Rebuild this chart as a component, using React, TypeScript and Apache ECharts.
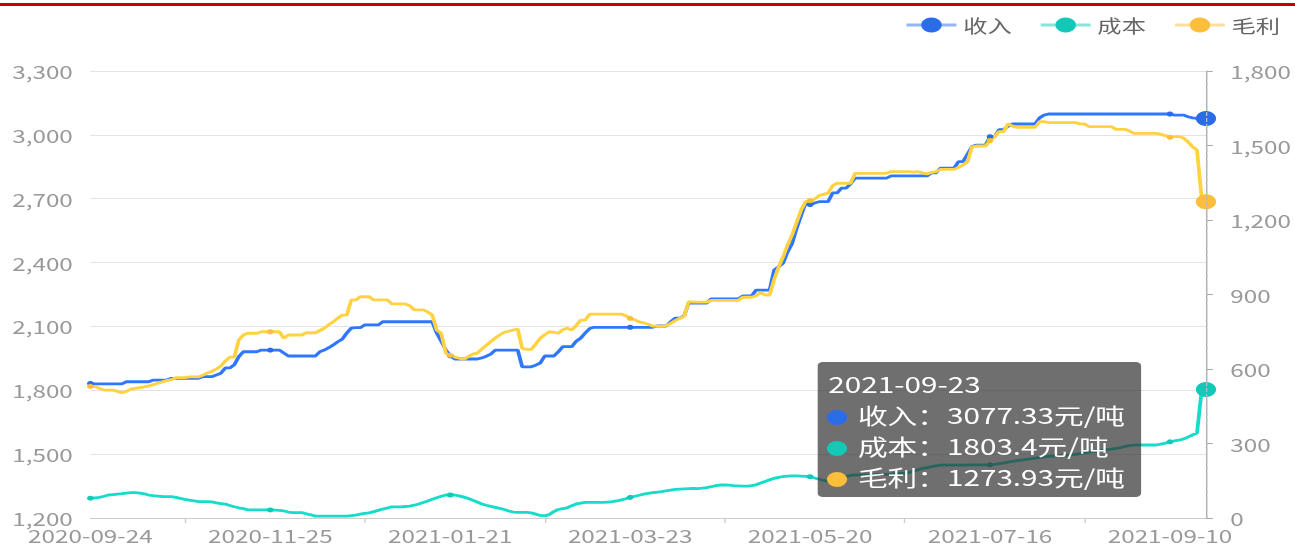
import React, { useEffect, useRef } from "react";
import * as echarts from "echarts";

// ---- categories: Chinese working days between the first and last date ----
const START_DATE = "2020-09-24";
const END_DATE = "2021-09-23";
const HOLIDAYS = [
  "2020-10-01", "2020-10-02", "2020-10-05", "2020-10-06", "2020-10-07", "2020-10-08",
  "2021-01-01",
  "2021-02-11", "2021-02-12", "2021-02-15", "2021-02-16", "2021-02-17",
  "2021-04-05",
  "2021-05-03", "2021-05-04", "2021-05-05",
  "2021-06-14",
  "2021-09-20", "2021-09-21",
];
const MAKEUP_WORKDAYS = [
  "2020-09-27", "2020-10-10", "2021-02-07", "2021-02-20", "2021-04-25", "2021-05-08", "2021-09-18",
];

function buildDates(): string[] {
  const out: string[] = [];
  const d = new Date(START_DATE + "T00:00:00Z");
  const end = new Date(END_DATE + "T00:00:00Z");
  while (d.getTime() <= end.getTime()) {
    const s = d.toISOString().slice(0, 10);
    const wd = d.getUTCDay();
    const work = MAKEUP_WORKDAYS.includes(s) || (wd !== 0 && wd !== 6 && !HOLIDAYS.includes(s));
    if (work) out.push(s);
    d.setUTCDate(d.getUTCDate() + 1);
  }
  return out;
}
const DATES = buildDates();

const SERIES_NAMES = ["收入", "成本", "毛利"];

// 收入 (left axis)
const INCOME = [
  1832, 1830, 1830, 1830, 1830, 1830, 1830, 1830, 1840, 1840,
  1840, 1840, 1840, 1840, 1848, 1848, 1848, 1848, 1856, 1856,
  1856, 1856, 1856, 1856, 1856, 1864, 1864, 1864, 1872, 1880,
  1905, 1905, 1920, 1958, 1981, 1981, 1981, 1981, 1989, 1989,
  1989, 1989, 1989, 1975, 1961, 1961, 1961, 1961, 1961, 1961,
  1961, 1981, 1989, 2000, 2013, 2028, 2040, 2069, 2092, 2094,
  2094, 2107, 2107, 2107, 2107, 2122, 2122, 2122, 2122, 2122,
  2122, 2122, 2122, 2122, 2122, 2122, 2122, 2069, 2030, 1990,
  1962, 1947, 1947, 1947, 1947, 1947, 1947, 1952, 1960, 1970,
  1989, 1989, 1989, 1989, 1989, 1989, 1910, 1910, 1910, 1918,
  1928, 1961, 1961, 1961, 1980, 2005, 2005, 2005, 2030, 2045,
  2069, 2090, 2096, 2096, 2096, 2096, 2096, 2096, 2096, 2096,
  2096, 2096, 2096, 2096, 2096, 2096, 2102, 2102, 2102, 2122,
  2139, 2139, 2150, 2210, 2210, 2210, 2210, 2210, 2229, 2229,
  2229, 2229, 2229, 2229, 2229, 2243, 2243, 2243, 2271, 2271,
  2271, 2271, 2365, 2380, 2398, 2450, 2490, 2560, 2620, 2680,
  2672, 2680, 2686, 2686, 2686, 2727, 2727, 2750, 2750, 2770,
  2797, 2797, 2797, 2797, 2797, 2797, 2797, 2797, 2807, 2807,
  2807, 2807, 2807, 2807, 2807, 2807, 2807, 2822, 2822, 2844,
  2844, 2844, 2844, 2874, 2874, 2910, 2945, 2952, 2952, 2952,
  2991, 2991, 3025, 3025, 3040, 3051, 3051, 3051, 3051, 3051,
  3051, 3080, 3093, 3098, 3098, 3098, 3098, 3098, 3098, 3098,
  3098, 3098, 3098, 3098, 3098, 3098, 3098, 3098, 3098, 3098,
  3098, 3098, 3098, 3098, 3098, 3098, 3098, 3098, 3098, 3098,
  3098, 3093, 3093, 3093, 3085, 3080, 3077.33, 3077.33, 3077.33,
];

// 成本 (left axis)
const COST = [
  1293, 1295, 1297, 1302, 1308, 1310, 1312, 1314, 1317, 1319,
  1319, 1317, 1313, 1308, 1305, 1303, 1301, 1300, 1300, 1297,
  1292, 1288, 1284, 1281, 1277, 1277, 1277, 1276, 1271, 1268,
  1265, 1259, 1253, 1248, 1244, 1238, 1238, 1238, 1238, 1238,
  1238, 1237, 1236, 1233, 1228, 1225, 1225, 1225, 1220, 1215,
  1209, 1209, 1209, 1209, 1209, 1209, 1209, 1209, 1211, 1214,
  1218, 1222, 1224, 1230, 1236, 1242, 1247, 1252, 1252, 1252,
  1254, 1256, 1260, 1266, 1273, 1280, 1288, 1295, 1302, 1308,
  1308, 1308, 1304, 1298, 1292, 1283, 1275, 1266, 1260, 1255,
  1250, 1245, 1240, 1233, 1228, 1226, 1226, 1226, 1224, 1218,
  1212, 1210, 1216, 1230, 1240, 1244, 1248, 1258, 1266, 1270,
  1273, 1273, 1273, 1273, 1273, 1275, 1277, 1280, 1285, 1290,
  1297, 1302, 1307, 1312, 1316, 1319, 1321, 1324, 1328, 1331,
  1334, 1336, 1337, 1338, 1339, 1338, 1340, 1343, 1347, 1352,
  1355, 1356, 1354, 1352, 1351, 1350, 1350, 1352, 1356, 1364,
  1372, 1380, 1386, 1391, 1395, 1397, 1398, 1398, 1397, 1396,
  1394, 1388, 1382, 1377, 1372, 1372, 1378, 1386, 1394, 1400,
  1402, 1403, 1403, 1403, 1403, 1405, 1405, 1405, 1405, 1410,
  1410, 1410, 1414, 1420, 1427, 1433, 1437, 1441, 1445, 1448,
  1448, 1448, 1448, 1448, 1448, 1448, 1450, 1450, 1450, 1450,
  1450, 1452, 1455, 1458, 1462, 1466, 1469, 1472, 1475, 1478,
  1481, 1484, 1487, 1489, 1491, 1493, 1494, 1495, 1497, 1499,
  1502, 1506, 1509, 1512, 1515, 1518, 1521, 1524, 1527, 1531,
  1536, 1540, 1542, 1543, 1543, 1543, 1543, 1543, 1547, 1552,
  1558, 1562, 1566, 1571, 1580, 1590, 1599, 1790, 1803.4,
];

// 毛利 (right axis)
const PROFIT = [
  530, 530, 522, 515, 515, 515, 510, 505, 510, 519,
  522, 525, 528, 532, 537, 543, 548, 553, 557, 565,
  565, 565, 568, 568, 568, 575, 584, 590, 600, 612,
  632, 648, 648, 717, 737, 744, 744, 744, 750, 750,
  750, 750, 750, 724, 737, 737, 737, 737, 746, 746,
  746, 755, 764, 778, 790, 805, 817, 817, 878, 878,
  891, 891, 891, 878, 878, 878, 878, 862, 862, 862,
  862, 855, 838, 838, 838, 830, 817, 757, 744, 664,
  655, 648, 644, 639, 650, 660, 664, 680, 695, 710,
  725, 737, 748, 752, 757, 761, 683, 679, 679, 700,
  724, 738, 750, 748, 744, 758, 764, 757, 775, 797,
  797, 821, 821, 821, 821, 821, 821, 821, 821, 815,
  804, 798, 790, 786, 780, 773, 773, 773, 775, 784,
  795, 804, 811, 871, 869, 869, 869, 869, 876, 876,
  876, 876, 876, 876, 876, 889, 889, 889, 895, 907,
  898, 898, 960, 1010, 1052, 1100, 1140, 1190, 1240, 1274,
  1278, 1285, 1298, 1303, 1308, 1338, 1348, 1348, 1348, 1348,
  1388, 1388, 1388, 1388, 1388, 1388, 1388, 1388, 1395, 1395,
  1395, 1395, 1395, 1393, 1395, 1390, 1385, 1392, 1395, 1404,
  1404, 1404, 1404, 1412, 1422, 1435, 1495, 1498, 1498, 1498,
  1520, 1535, 1556, 1556, 1587, 1578, 1573, 1573, 1573, 1573,
  1573, 1596, 1596, 1592, 1592, 1592, 1592, 1592, 1592, 1592,
  1587, 1587, 1576, 1576, 1576, 1576, 1576, 1576, 1565, 1565,
  1565, 1558, 1549, 1549, 1549, 1549, 1549, 1549, 1545, 1540,
  1533, 1536, 1536, 1530, 1515, 1495, 1482, 1295, 1273.93,
];

const LEFT_TICKS = { min: 1200, max: 3300, interval: 300 };
const RIGHT_TICKS = { min: 0, max: 1800, interval: 300 };
const UNIT = "元/吨";

const COLORS = ["#2B6DE8", "#14C8B8", "#FBBF3C"];
const STRETCH = 1295 / 960;
const FONT = '"Noto Sans CJK SC", "Noto Sans", sans-serif';

export default function App() {
  const ref = useRef<HTMLDivElement>(null);

  useEffect(() => {
    document.body.style.margin = "0";
    document.body.style.overflow = "hidden";
    if (!ref.current) return;
    const chart = echarts.init(ref.current, null, { renderer: "svg" });
    const fmt = (v: number) => v.toLocaleString("en-US");

    const lineSeries = (name: string, data: number[], yAxisIndex: number, color: string) => ({
      name,
      type: "line",
      data,
      yAxisIndex,
      color,
      symbol: "circle",
      symbolSize: 5,
      showSymbol: true,
      lineStyle: { width: 2.8, color },
      itemStyle: { color },
      emphasis: { scale: 3, lineStyle: { width: 2.8 } },
    });

    chart.setOption({
      animation: false,
      textStyle: { fontFamily: FONT },
      graphic: [
        {
          type: "rect",
          silent: true,
          shape: { x: 0, y: 3, width: 960, height: 3 },
          style: { fill: "#C00000" },
        },
      ],
      legend: {
        data: SERIES_NAMES,
        right: 11,
        top: 16,
        padding: 0,
        itemWidth: 37,
        itemHeight: 19,
        itemGap: 20,
        lineStyle: { width: 3, opacity: 0.5 },
        textStyle: { fontSize: 18, color: "#666", fontFamily: FONT },
      },
      grid: {
        left: 67,
        right: 66,
        top: 71,
        bottom: 27,
        containLabel: false,
        outerBoundsMode: "none",
      },
      tooltip: {
        trigger: "axis",
        alwaysShowContent: true,
        transitionDuration: 0,
        position: [606, 362],
        backgroundColor: "rgba(50,50,50,0.7)",
        borderWidth: 0,
        padding: [6, 12, 5, 7],
        extraCssText: "box-shadow:none;border-radius:4px;",
        textStyle: { color: "#fff", fontSize: 22, fontFamily: FONT },
        formatter: (params: any) => {
          const ps = Array.isArray(params) ? params : [params];
          let html = `<div style="line-height:31px;padding-left:1px">${ps[0].axisValue}</div>`;
          ps.forEach((p: any) => {
            html +=
              `<div style="line-height:31px;white-space:nowrap">` +
              `<span style="display:inline-block;width:15px;height:15px;border-radius:50%;background:${p.color};margin-right:8px;vertical-align:-1px"></span>` +
              `${p.seriesName}：${p.value}${UNIT}</div>`;
          });
          return html;
        },
      },
      xAxis: {
        type: "category",
        data: DATES,
        boundaryGap: false,
        axisLine: { lineStyle: { color: "#CCCCCC" } },
        axisTick: {
          show: true,
          length: 5,
          interval: (index: number) => index % 40 === 21,
          lineStyle: { color: "#CCCCCC" },
        },
        axisLabel: {
          interval: (index: number) => index % 40 === 0,
          fontSize: 18,
          color: "#999",
          margin: 8,
          fontFamily: FONT,
        },
        splitLine: { show: false },
      },
      yAxis: [
        {
          type: "value",
          position: "left",
          min: LEFT_TICKS.min,
          max: LEFT_TICKS.max,
          interval: LEFT_TICKS.interval,
          axisLine: { show: false },
          axisTick: { show: false },
          axisLabel: { fontSize: 18, color: "#999", margin: 13, formatter: fmt, fontFamily: FONT },
          splitLine: { show: true, lineStyle: { color: "#E3E3E3" } },
        },
        {
          type: "value",
          position: "right",
          min: RIGHT_TICKS.min,
          max: RIGHT_TICKS.max,
          interval: RIGHT_TICKS.interval,
          axisLine: { show: true, lineStyle: { color: "#AAAAAA" } },
          axisTick: { show: true, length: 5, lineStyle: { color: "#AAAAAA" } },
          axisLabel: {
            fontSize: 18,
            color: "#999",
            margin: 18,
            align: "left",
            formatter: fmt,
            fontFamily: FONT,
          },
          splitLine: { show: false },
        },
      ],
      series: [
        lineSeries(SERIES_NAMES[0], INCOME, 0, COLORS[0]),
        lineSeries(SERIES_NAMES[1], COST, 0, COLORS[1]),
        lineSeries(SERIES_NAMES[2], PROFIT, 1, COLORS[2]),
      ],
    });

    chart.dispatchAction({ type: "showTip", seriesIndex: 0, dataIndex: DATES.length - 1 });

    return () => {
      chart.dispose();
    };
  }, []);

  return (
    <div
      ref={ref}
      style={{
        width: 960,
        height: 545,
        transform: `scaleX(${STRETCH})`,
        transformOrigin: "0 0",
      }}
    />
  );
}
